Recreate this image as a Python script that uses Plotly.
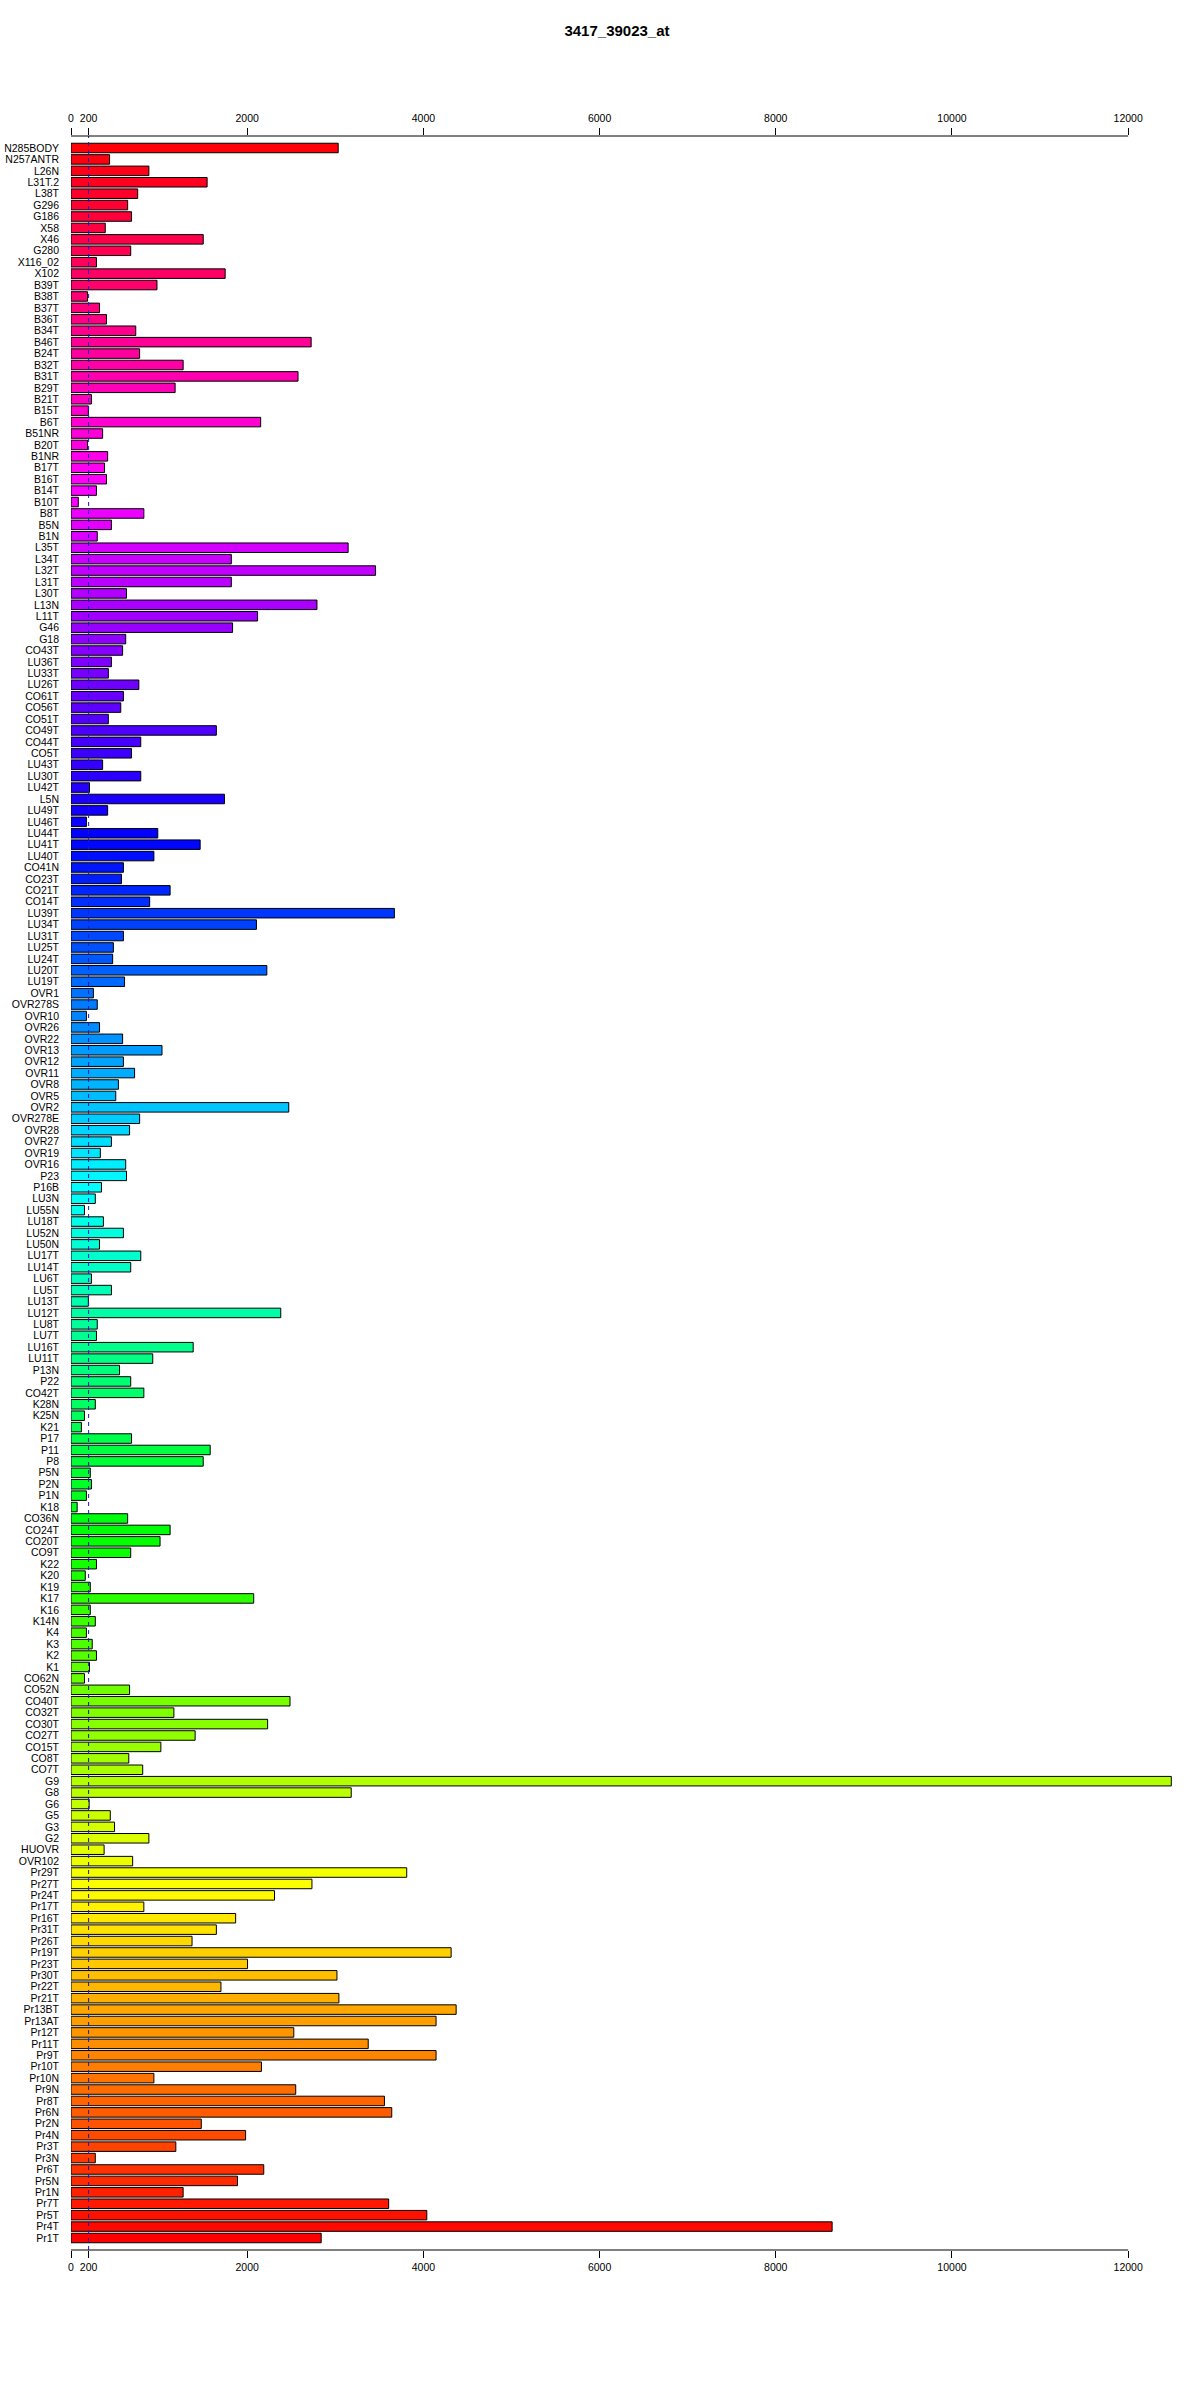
import colorsys
import plotly.graph_objects as go

TITLE = "3417_39023_at"
CUTOFF = 200
AXIS_END = 12000
TICK_VALUES = [0, 200, 2000, 4000, 6000, 8000, 10000, 12000]
TICK_TEXT = ["0", "200", "2000", "4000", "6000", "8000", "10000", "12000"]

# categories / values, listed top to bottom as in the chart
labels_a = ["N285BODY", "N257ANTR", "L26N", "L31T.2", "L38T", "G296", "G186", "X58",
            "X46", "G280", "X116_02", "X102", "B39T", "B38T", "B37T", "B36T"]
values_a = [3033, 438, 884, 1545, 757, 643, 687, 389, 1501, 678, 289, 1750, 976, 188, 324, 403]

labels_b = ["B34T", "B46T", "B24T", "B32T", "B31T", "B29T", "B21T", "B15T", "B6T",
            "B51NR", "B20T", "B1NR", "B17T", "B16T", "B14T", "B10T", "B8T"]
values_b = [735, 2726, 779, 1273, 2577, 1182, 232, 197, 2153, 359, 188, 416, 381, 403, 289, 83, 827]

labels_c = ["B5N", "B1N", "L35T", "L34T", "L32T", "L31T", "L30T", "L13N", "L11T",
            "G46", "G18", "CO43T", "LU36T", "LU33T", "LU26T", "CO61T", "CO56T"]
values_c = [459, 298, 3146, 1820, 3457, 1820, 630, 2792, 2118, 1834, 621, 586, 459, 424, 770, 595, 565]

labels_d = ["CO51T", "CO49T", "CO44T", "CO5T", "LU43T", "LU30T", "LU42T", "L5N",
            "LU49T", "LU46T", "LU44T", "LU41T", "LU40T", "CO41N", "CO23T", "CO21T"]
values_d = [424, 1650, 792, 687, 359, 792, 210, 1742, 416, 175, 985, 1466, 941, 595, 573, 1125]

labels_e = ["CO14T", "LU39T", "LU34T", "LU31T", "LU25T", "LU24T", "LU20T", "LU19T",
            "OVR1", "OVR278S", "OVR10", "OVR26", "OVR22", "OVR13", "OVR12", "OVR11", "OVR8"]
values_e = [893, 3671, 2105, 595, 481, 473, 2223, 608, 254, 298, 175, 324, 586, 1033, 595, 722, 538]

labels_f = ["OVR5", "OVR2", "OVR278E", "OVR28", "OVR27", "OVR19", "OVR16", "P23",
            "P16B", "LU3N", "LU55N", "LU18T", "LU52N", "LU50N", "LU17T", "LU14T"]
values_f = [508, 2472, 779, 665, 459, 333, 621, 630, 346, 276, 153, 368, 595, 324, 792, 678]

labels_g = ["LU6T", "LU5T", "LU13T", "LU12T", "LU8T", "LU7T", "LU16T", "LU11T", "P13N",
            "P22", "CO42T", "K28N", "K25N", "K21", "P17", "P11", "P8"]
values_g = [232, 459, 197, 2381, 298, 289, 1387, 928, 551, 678, 827, 276, 153, 118, 687, 1580, 1501]

labels_h = ["P5N", "P2N", "P1N", "K18", "CO36N", "CO24T", "CO20T", "CO9T", "K22",
            "K20", "K19", "K17", "K16", "K14N", "K4", "K3", "K2"]
values_h = [219, 232, 175, 70, 643, 1125, 1011, 678, 289, 162, 219, 2074, 219, 276, 175, 241, 289]

labels_i = ["K1", "CO62N", "CO52N", "CO40T", "CO32T", "CO30T", "CO27T", "CO15T",
            "CO8T", "CO7T", "G9", "G8", "G6", "G5", "G3", "G2"]
values_i = [210, 153, 665, 2486, 1168, 2232, 1409, 1020, 656, 814, 12490, 3181, 206, 446, 494, 884]

labels_j = ["HUOVR", "OVR102", "Pr29T", "Pr27T", "Pr24T", "Pr17T", "Pr16T", "Pr31T",
            "Pr26T", "Pr19T", "Pr23T", "Pr30T", "Pr22T", "Pr21T", "Pr13BT", "Pr13AT", "Pr12T"]
values_j = [376, 700, 3811, 2735, 2310, 827, 1869, 1650, 1374, 4315, 2004, 3019, 1702, 3041, 4372, 4144, 2529]

labels_k = ["Pr11T", "Pr9T", "Pr10T", "Pr10N", "Pr9N", "Pr8T", "Pr6N", "Pr2N", "Pr4N",
            "Pr3T", "Pr3N", "Pr6T", "Pr5N", "Pr1N", "Pr7T", "Pr5T", "Pr4T", "Pr1T"]
values_k = [3374, 4144, 2162, 941, 2551, 3558, 3641, 1479, 1982, 1190, 276, 2188, 1890, 1273, 3606, 4039, 8640, 2840]

labels = (labels_a + labels_b + labels_c + labels_d + labels_e + labels_f +
          labels_g + labels_h + labels_i + labels_j + labels_k)
values = (values_a + values_b + values_c + values_d + values_e + values_f +
          values_g + values_h + values_i + values_j + values_k)
assert len(labels) == len(values)
n = len(labels)

# rainbow palette: bottom bar red, hue increasing upward
colors = []
for k in range(n):
    i = n - 1 - k
    r, g, b = colorsys.hsv_to_rgb(i / n, 1.0, 1.0)
    colors.append("rgb(%d,%d,%d)" % (round(r * 255), round(g * 255), round(b * 255)))

FONT = "Liberation Sans, Arial, Helvetica, sans-serif"

fig = go.Figure()
fig.add_trace(go.Bar(
    x=values, y=labels, orientation="h",
    marker=dict(color=colors, line=dict(color="black", width=1)),
    width=0.833, showlegend=False, hoverinfo="x+y",
))
# helper trace so the top axis is drawn
fig.add_trace(go.Scatter(
    x=[0], y=[labels[0]], xaxis="x2", mode="markers",
    marker=dict(opacity=0), showlegend=False, hoverinfo="skip",
))

# cutoff reference line
fig.add_shape(type="line", xref="x", yref="paper", x0=CUTOFF, x1=CUTOFF, y0=0, y1=1,
              line=dict(color="#1c1cb0", width=1, dash="4px,4px"), layer="above")
# axis lines spanning only the labelled range (0 .. 12000)
for yp in (0, 1):
    fig.add_shape(type="line", xref="x", yref="paper", x0=0, x1=AXIS_END, y0=yp, y1=yp,
                  line=dict(color="black", width=1), layer="above")

axis_common = dict(
    range=[0, 12600], tickvals=TICK_VALUES, ticktext=TICK_TEXT,
    ticks="outside", ticklen=7, tickwidth=1, tickcolor="black",
    showline=False, showgrid=False, zeroline=False, automargin=False,
    tickfont=dict(family=FONT, size=10.5, color="black"),
)

fig.update_layout(
    width=1200, height=2400, autosize=False,
    paper_bgcolor="white", plot_bgcolor="white",
    margin=dict(l=71, r=19, t=136, b=150),
    title=dict(text="<b>" + TITLE + "</b>", x=617 / 1200, y=1 - 31 / 2400,
               xanchor="center", yanchor="middle",
               font=dict(family=FONT, size=15, color="black")),
    xaxis=dict(**axis_common, side="bottom"),
    xaxis2=dict(**axis_common, side="top", overlaying="x", matches="x",
                ticklabelstandoff=2),
    yaxis=dict(type="category", categoryorder="array", categoryarray=labels,
               tickmode="array", tickvals=labels, ticktext=labels,
               range=[n - 1 + 1.05, -1.05], showline=False, showgrid=False,
               zeroline=False, ticks="", ticklabelstandoff=11, automargin=False,
               tickfont=dict(family=FONT, size=10.5, color="black")),
)

fig.write_html("out.html", config={"displayModeBar": False},
               post_script="document.body.style.margin='0';document.body.style.padding='0';")
